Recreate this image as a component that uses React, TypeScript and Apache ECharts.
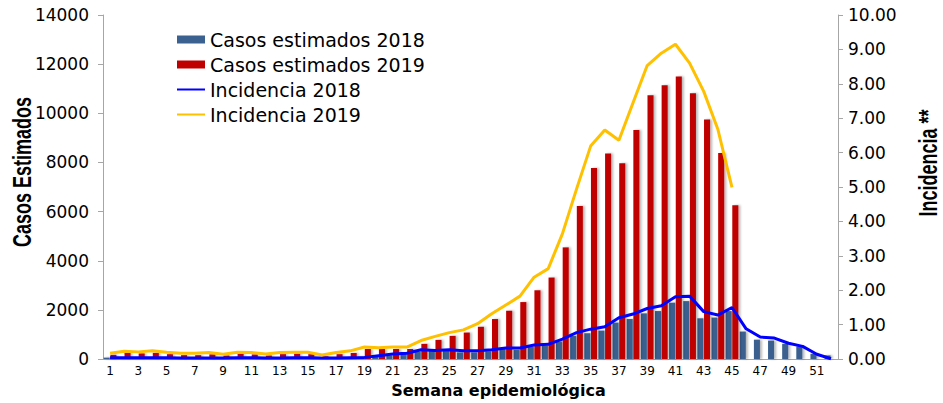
import React, { useEffect, useRef } from "react";
import * as echarts from "echarts";

const weeks = [
  "1", "2", "3", "4", "5", "6", "7", "8", "9", "10", "11", "12", "13",
  "14", "15", "16", "17", "18", "19", "20", "21", "22", "23", "24", "25", "26",
  "27", "28", "29", "30", "31", "32", "33", "34", "35", "36", "37", "38", "39",
  "40", "41", "42", "43", "44", "45", "46", "47", "48", "49", "50", "51", "52",
];

const casos2018 = [
  60, 50, 70, 60, 50, 40, 50, 40, 50, 60, 60, 50, 40,
  60, 60, 50, 60, 80, 100, 110, 150, 240, 310, 330, 365, 275,
  275, 320, 410, 380, 500, 554, 716, 945, 1052, 1160, 1485, 1630, 1860,
  1955, 2295, 2360, 1660, 1690, 1955, 1120, 790, 755, 620, 515, 215, 150,
];

const casos2019 = [
  175, 250, 230, 255, 200, 160, 160, 195, 145, 210, 190, 145, 200,
  220, 200, 115, 200, 250, 410, 410, 410, 410, 620, 782, 945, 1080,
  1315, 1630, 1970, 2320, 2800, 3318, 4545, 6232, 7770, 8365, 7973, 9320, 10737,
  11142, 11493, 10818, 9753, 8390, 6260, null, null, null, null, null, null, null,
];

const incid2018 = [
  0.04, 0.04, 0.04, 0.04, 0.04, 0.03, 0.03, 0.03, 0.03, 0.04, 0.04, 0.03, 0.03,
  0.04, 0.04, 0.03, 0.03, 0.04, 0.05, 0.10, 0.15, 0.17, 0.27, 0.25, 0.27, 0.24,
  0.24, 0.27, 0.32, 0.32, 0.41, 0.43, 0.58, 0.77, 0.87, 0.94, 1.20, 1.31, 1.47,
  1.55, 1.81, 1.83, 1.38, 1.28, 1.50, 0.88, 0.64, 0.61, 0.46, 0.37, 0.14, 0.01,
];

const incid2019 = [
  0.17, 0.23, 0.21, 0.24, 0.20, 0.17, 0.17, 0.19, 0.14, 0.20, 0.19, 0.15, 0.19,
  0.20, 0.20, 0.12, 0.19, 0.24, 0.35, 0.33, 0.35, 0.35, 0.54, 0.66, 0.77, 0.85,
  1.03, 1.32, 1.57, 1.83, 2.38, 2.63, 3.64, 4.94, 6.19, 6.66, 6.36, 7.45, 8.53,
  8.89, 9.15, 8.60, 7.78, 6.68, 4.99, null, null, null, null, null, null, null,
];

const AXIS_GREY = "#a6a6a6";
const TICK_FONT = "'DejaVu Sans', sans-serif";
const BLUE_BAR = "#3a6190";
const RED_BAR = "#c00000";
const BLUE_LINE = "#0000ff";
const YELLOW_LINE = "#ffc000";

export default function App() {
  const ref = useRef<HTMLDivElement>(null);

  useEffect(() => {
    if (!ref.current) return;
    const chart = echarts.init(ref.current, undefined, { renderer: "svg" });
    const barShadow = {
      shadowColor: "rgba(0,0,0,0.28)",
      shadowBlur: 2,
      shadowOffsetX: 2,
      shadowOffsetY: 0,
    };
    chart.setOption({
      animation: false,
      backgroundColor: "#ffffff",
      grid: { left: 103, right: 105, top: 15, bottom: 42 },
      legend: {
        orient: "vertical",
        left: 171,
        top: 25,
        itemWidth: 28,
        itemHeight: 8,
        itemGap: 6,
        textStyle: {
          fontFamily: TICK_FONT,
          fontSize: 19,
          lineHeight: 19,
          color: "#000",
        },
        data: [
          { name: "Casos estimados 2018", icon: "rect" },
          { name: "Casos estimados 2019", icon: "rect" },
          {
            name: "Incidencia 2018",
            itemStyle: { opacity: 0 },
            lineStyle: { color: BLUE_LINE, width: 2 },
          },
          {
            name: "Incidencia 2019",
            itemStyle: { opacity: 0 },
            lineStyle: { color: YELLOW_LINE, width: 2 },
          },
        ],
      },
      xAxis: {
        type: "category",
        data: weeks,
        axisLine: { lineStyle: { color: AXIS_GREY, width: 1 } },
        axisTick: { interval: 0, length: 4, lineStyle: { color: AXIS_GREY } },
        axisLabel: {
          interval: 1,
          margin: 6,
          fontFamily: TICK_FONT,
          fontSize: 12,
          color: "#000",
        },
        name: "Semana epidemiológica",
        nameLocation: "middle",
        nameGap: 20,
        nameTextStyle: {
          fontFamily: TICK_FONT,
          fontWeight: "bold",
          fontSize: 16,
          color: "#000",
          padding: [0, 0, 0, 56],
        },
      },
      yAxis: [
        {
          type: "value",
          position: "left",
          min: 0,
          max: 14000,
          interval: 2000,
          axisLine: { show: true, lineStyle: { color: AXIS_GREY } },
          axisTick: { show: true, length: 5, lineStyle: { color: AXIS_GREY } },
          splitLine: { show: false },
          axisLabel: {
            margin: 14,
            fontFamily: TICK_FONT,
            fontSize: 17,
            color: "#000",
            formatter: (v: number) => String(v),
          },
        },
        {
          type: "value",
          position: "right",
          min: 0,
          max: 10,
          interval: 1,
          axisLine: { show: true, lineStyle: { color: AXIS_GREY } },
          axisTick: { show: true, length: 5, lineStyle: { color: AXIS_GREY } },
          splitLine: { show: false },
          axisLabel: {
            margin: 10,
            fontFamily: TICK_FONT,
            fontSize: 17,
            color: "#000",
            formatter: (v: number) => v.toFixed(2),
          },
        },
      ],
      series: [
        {
          name: "Casos estimados 2018",
          type: "bar",
          data: casos2018,
          barCategoryGap: "10%",
          barGap: "10%",
          itemStyle: { color: BLUE_BAR, ...barShadow },
        },
        {
          name: "Casos estimados 2019",
          type: "bar",
          data: casos2019,
          barCategoryGap: "10%",
          barGap: "10%",
          itemStyle: { color: RED_BAR, ...barShadow },
        },
        {
          name: "Incidencia 2018",
          type: "line",
          yAxisIndex: 1,
          data: incid2018,
          symbol: "none",
          lineStyle: { color: BLUE_LINE, width: 3 },
          itemStyle: { color: BLUE_LINE },
        },
        {
          name: "Incidencia 2019",
          type: "line",
          yAxisIndex: 1,
          data: incid2019,
          symbol: "none",
          lineStyle: { color: YELLOW_LINE, width: 3 },
          itemStyle: { color: YELLOW_LINE },
        },
      ],
      graphic: [
        {
          type: "text",
          x: 22,
          y: 172,
          rotation: Math.PI / 2,
          scaleY: 1.4,
          style: {
            text: "Casos Estimados",
            fontFamily: "'Liberation Sans', Arial, sans-serif",
            fontWeight: "bold",
            fontSize: 18,
            fill: "#000",
            align: "center",
            verticalAlign: "middle",
            textAlign: "center",
            textVerticalAlign: "middle",
          },
        },
        {
          type: "text",
          x: 928,
          y: 163,
          rotation: Math.PI / 2,
          scaleY: 1.4,
          style: {
            text: "Incidencia **",
            fontFamily: "'Liberation Sans', Arial, sans-serif",
            fontWeight: "bold",
            fontSize: 18,
            fill: "#000",
            align: "center",
            verticalAlign: "middle",
            textAlign: "center",
            textVerticalAlign: "middle",
          },
        },
      ],
    });
    return () => {
      chart.dispose();
    };
  }, []);

  return (
    <div
      ref={ref}
      style={{ position: "absolute", left: 0, top: 0, width: 943, height: 403 }}
    />
  );
}
